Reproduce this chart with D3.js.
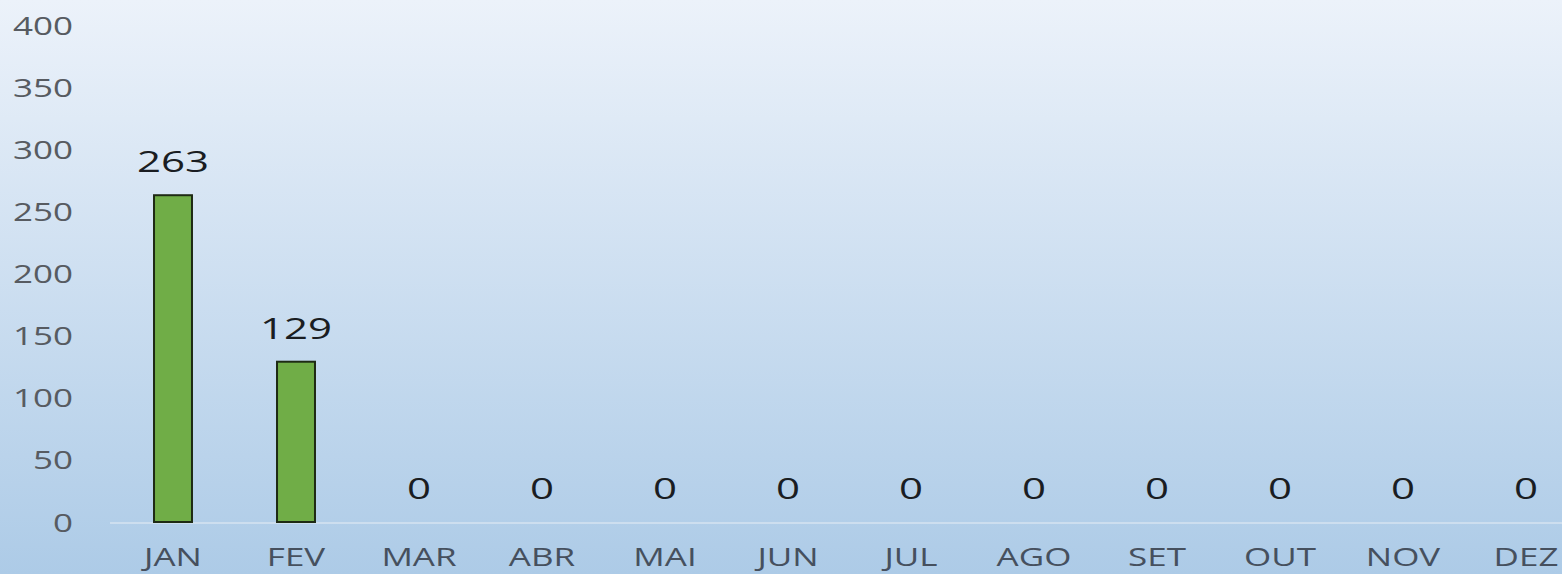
<!DOCTYPE html>
<html>
<head>
<meta charset="utf-8">
<script src="https://cdn.jsdelivr.net/npm/d3@7"></script>
<style>
  html, body { margin: 0; padding: 0; overflow: hidden; }
  svg { display: block; }
</style>
</head>
<body>
<svg id="chart"></svg>
<script>
var w = 1562,
    h = 574,
    stretch = 1.4; // the source image is stretched sideways

var months = ["JAN", "FEV", "MAR", "ABR", "MAI", "JUN", "JUL", "AGO", "SET", "OUT", "NOV", "DEZ"];
var values = [263, 129, 0, 0, 0, 0, 0, 0, 0, 0, 0, 0];
var yTicks = [0, 50, 100, 150, 200, 250, 300, 350, 400];

var svg = d3.select("#chart")
  .attr("width", w)
  .attr("height", h);

var grad = svg.append("defs").append("linearGradient")
  .attr("id", "bg")
  .attr("x1", 0).attr("y1", 0)
  .attr("x2", 0).attr("y2", 1);
grad.append("stop").attr("offset", "0%").attr("stop-color", "#ecf2fa");
grad.append("stop").attr("offset", "100%").attr("stop-color", "#adcbe7");

svg.append("rect")
  .attr("width", w)
  .attr("height", h)
  .style("fill", "url(#bg)");

var x = d3.scaleBand()
  .domain(months)
  .range([111.5, 1587.5])
  .paddingInner(0.675)
  .paddingOuter(0.3375);

var y = d3.scaleLinear()
  .domain([0, 400])
  .range([522, 25]);

// baseline
svg.append("line")
  .attr("x1", 110)
  .attr("x2", w)
  .attr("y1", y(0) + 1)
  .attr("y2", y(0) + 1)
  .style("stroke", "#d6e3f1")
  .style("stroke-width", 1.5);

// y axis labels
var yAxis = d3.axisLeft(y).tickValues(yTicks).tickSize(0).tickPadding(0);
var yg = svg.append("g")
  .attr("transform", "translate(73,0)")
  .call(yAxis);
yg.select(".domain").remove();
yg.selectAll("text")
  .attr("dy", "0.36em")
  .attr("transform", "scale(" + stretch + ",1)")
  .style("font-family", "'Open Sans', sans-serif")
  .style("font-size", "25px")
  .style("fill", "#575b61");

// x axis labels
var xAxis = d3.axisBottom(x).tickSize(0).tickPadding(0);
var xg = svg.append("g")
  .attr("transform", "translate(0,566)")
  .call(xAxis);
xg.select(".domain").remove();
xg.selectAll("text")
  .attr("dy", 0)
  .attr("transform", "scale(" + stretch + ",1)")
  .style("font-family", "'Open Sans', sans-serif")
  .style("font-size", "25px")
  .style("fill", "#46505e");

// bars
svg.append("g").selectAll("rect")
  .data(values)
  .enter().append("rect")
  .attr("x", function(d, i) { return x(months[i]) + 1; })
  .attr("y", function(d) { return y(d); })
  .attr("width", x.bandwidth() - 2)
  .attr("height", function(d) { return y(0) - y(d); })
  .style("fill", "#70ad47")
  .style("stroke", "#1e2a14")
  .style("stroke-width", 2);

// data labels
svg.append("g").selectAll("text")
  .data(values)
  .enter().append("text")
  .attr("transform", function(d, i) {
    return "translate(" + (x(months[i]) + x.bandwidth() / 2) + "," + (y(d) - 23) + ")scale(" + stretch + ",1)";
  })
  .attr("text-anchor", "middle")
  .style("font-family", "'Open Sans', sans-serif")
  .style("font-size", "30px")
  .style("fill", "#1a1d22")
  .text(function(d) { return d; });
</script>
</body>
</html>
